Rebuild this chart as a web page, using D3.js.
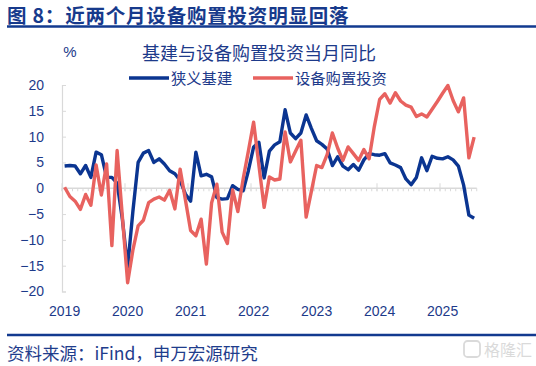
<!DOCTYPE html>
<html>
<head>
<meta charset="utf-8">
<script src="https://cdn.jsdelivr.net/npm/d3@7/dist/d3.min.js"></script>
<style>
  body { margin: 0; background: #fff; }
  svg { display: block; font-family: "Liberation Sans", Arial, "Noto Sans CJK SC", sans-serif; }
</style>
</head>
<body>
<svg id="chart" width="536" height="366"></svg>
<script>
// monthly categories, Jan 2019 .. Jul 2025
var years = ['2019', '2020', '2021', '2022', '2023', '2024', '2025'];
var months = [];
years.forEach(function (y) {
    for (var m = 1; m <= 12; m++) {
        if (y === '2025' && m > 7) break;
        months.push(y + '-' + (m < 10 ? '0' + m : m));
    }
});

var yTicks = [-20, -15, -10, -5, 0, 5, 10, 15, 20];

// 狭义基建 当月同比 (%)
var infra = [
    4.3, 4.4, 4.3, 2.8, 4.4, 2.1, 7.0, 6.5, 2.1, 2.1, 1.0, -6.0,
    -15.3, -4.5, 5.0, 6.8, 7.3, 5.0, 5.7, 4.7, 3.4, 2.8, 1.5, -1.1,
    -2.5, 7.0, 2.4, 2.7, 2.2, -1.8, -2.1, -2.0, 0.5, -0.2, -0.5, 3.4,
    8.0, 8.9, 2.0, 7.2, 8.4, 9.0, 15.2, 10.7, 9.6, 10.7, 14.2, 11.6,
    9.2, 8.5, 7.6, 4.4, 6.1, 4.3, 3.6, 4.6, 3.5, 5.5, 6.7, 6.5,
    6.4, 6.7, 4.9, 4.5, 4.0, 1.8, 0.7, 2.1, 5.9, 3.4, 6.2, 5.8,
    5.7, 6.1, 5.5, 4.3, 0.6, -5.2, -5.8
];

// 设备购置投资 当月同比 (%)
var equip = [
    0.2, -1.6, -2.5, -4.1, -1.2, -3.3, 4.5, -1.3, 4.7, -11.1, 7.3, -5.5,
    -18.3, -12.0, -7.3, -6.2, -2.8, -2.1, -1.7, -2.3, -0.4, -4.0, 3.7, -2.2,
    -8.2, -9.2, -6.0, -14.7, -2.8, 0.8, -8.5, -10.7, -0.3, -4.5, 1.8, 7.2,
    12.8, 4.5, -3.7, 2.2, 1.6, 1.8, 10.9, 5.1, 7.2, 9.3, -5.6, -0.6,
    4.4, 4.0, 6.5, 10.7, 7.8, 5.4, 8.0, 6.7, 5.4, 7.5, 5.7, 12.0,
    17.2, 18.3, 16.5, 18.5, 16.9, 16.1, 15.7, 13.9, 14.4, 13.8, 15.3, 16.8,
    18.4, 19.9, 17.0, 14.8, 17.5, 5.9, 9.9
];

var seriesNames = ['狭义基建', '设备购置投资'];
var seriesColors = ['#0b3591', '#e8625f'];
var textColor = '#1d3a8a';

var svg = d3.select('#chart');

// header
svg.append('text')
    .attr('x', 7).attr('y', 22.7)
    .attr('font-size', 19.5).attr('font-weight', 'bold')
    .attr('letter-spacing', 0.8)
    .attr('fill', '#173a8c')
    .style('font-family', '"Noto Sans CJK SC", sans-serif')
    .text('图 8：近两个月设备购置投资明显回落');
svg.append('line')
    .attr('x1', 7).attr('x2', 536).attr('y1', 26.5).attr('y2', 26.5)
    .attr('stroke', '#123a8f').attr('stroke-width', 2.5);

// scales
var x = d3.scaleBand().domain(months).range([62, 476.75]).paddingInner(0).paddingOuter(0);
var y = d3.scaleLinear().domain([-20, 20]).range([291.5, 85]);
var cx = function (d, i) { return x(months[i]) + x.bandwidth() / 2; };

// subtitle and unit
svg.append('text')
    .attr('x', 259).attr('y', 60)
    .attr('text-anchor', 'middle')
    .attr('font-size', 18).attr('fill', textColor)
    .style('font-family', '"Noto Sans CJK SC", sans-serif')
    .text('基建与设备购置投资当月同比');
svg.append('text')
    .attr('x', 70).attr('y', 57)
    .attr('text-anchor', 'middle')
    .attr('font-size', 15).attr('fill', textColor)
    .text('%');

// y axis
var yAxis = d3.axisRight(y).tickValues(yTicks).tickSize(4).tickFormat(d3.format('d'));
var gy = svg.append('g').attr('transform', 'translate(62,0)').call(yAxis);
gy.select('.domain').attr('stroke', '#d9d9d9').attr('stroke-width', 1.2);
gy.selectAll('.tick line').attr('stroke', '#d9d9d9');
gy.selectAll('.tick text')
    .attr('x', -18).attr('text-anchor', 'end')
    .attr('font-size', 14).attr('fill', textColor);

// x axis at zero: minor ticks each month, major at year start
var xAxisG = svg.append('g').attr('transform', 'translate(0,' + y(0) + ')');
xAxisG.append('line')
    .attr('x1', x.range()[0]).attr('x2', x.range()[1])
    .attr('stroke', '#d9d9d9').attr('stroke-width', 1.5);
var boundaries = months.map(function (m) { return x(m); }).concat([x.range()[1]]);
xAxisG.selectAll('.minor').data(boundaries).enter().append('line')
    .attr('class', 'minor')
    .attr('x1', function (d) { return d; }).attr('x2', function (d) { return d; })
    .attr('y1', 0).attr('y2', 3)
    .attr('stroke', '#d9d9d9');
xAxisG.selectAll('.major').data(years).enter().append('line')
    .attr('class', 'major')
    .attr('x1', function (d) { return x(d + '-01'); }).attr('x2', function (d) { return x(d + '-01'); })
    .attr('y1', -5).attr('y2', 3)
    .attr('stroke', '#d9d9d9');

// year labels
svg.selectAll('.year').data(years).enter().append('text')
    .attr('class', 'year')
    .attr('x', function (d) { return x(d + '-01') + x.bandwidth() / 2; })
    .attr('y', 316)
    .attr('text-anchor', 'middle')
    .attr('font-size', 14).attr('fill', textColor)
    .text(function (d) { return d; });

// lines
var line = d3.line()
    .x(cx)
    .y(function (d) { return y(d); });

[infra, equip].forEach(function (s, k) {
    svg.append('path')
        .datum(s)
        .attr('d', line)
        .attr('fill', 'none')
        .attr('stroke', seriesColors[k])
        .attr('stroke-width', 3.4)
        .attr('stroke-linejoin', 'round');
});

// legend
var legendX = [129, 253];
seriesNames.forEach(function (name, k) {
    var g = svg.append('g').attr('transform', 'translate(' + legendX[k] + ',78)');
    g.append('line')
        .attr('x1', 0).attr('x2', 40).attr('y1', 0).attr('y2', 0)
        .attr('stroke', seriesColors[k]).attr('stroke-width', 3.4);
    g.append('text')
        .attr('x', 42).attr('y', 5.5)
        .attr('font-size', 15.3).attr('fill', textColor)
        .style('font-family', '"Noto Sans CJK SC", sans-serif')
        .text(name);
});

// footer
svg.append('line')
    .attr('x1', 7).attr('x2', 536).attr('y1', 335).attr('y2', 335)
    .attr('stroke', '#123a8f').attr('stroke-width', 2.5);
svg.append('text')
    .attr('x', 7).attr('y', 360)
    .attr('font-size', 17.5).attr('fill', '#1f3d8c')
    .style('font-family', '"Noto Sans CJK SC", sans-serif')
    .text('资料来源：iFind，申万宏源研究');

// watermark
var wm = svg.append('g').attr('opacity', 0.55);
wm.append('rect')
    .attr('x', 464).attr('y', 341).attr('width', 16).attr('height', 16).attr('rx', 3.5)
    .attr('fill', 'none').attr('stroke', '#bdbdbd').attr('stroke-width', 1.8);
wm.append('text')
    .attr('x', 484).attr('y', 356)
    .attr('font-size', 16).attr('fill', '#bdbdbd')
    .style('font-family', '"Noto Sans CJK SC", sans-serif')
    .text('格隆汇');
</script>
</body>
</html>
